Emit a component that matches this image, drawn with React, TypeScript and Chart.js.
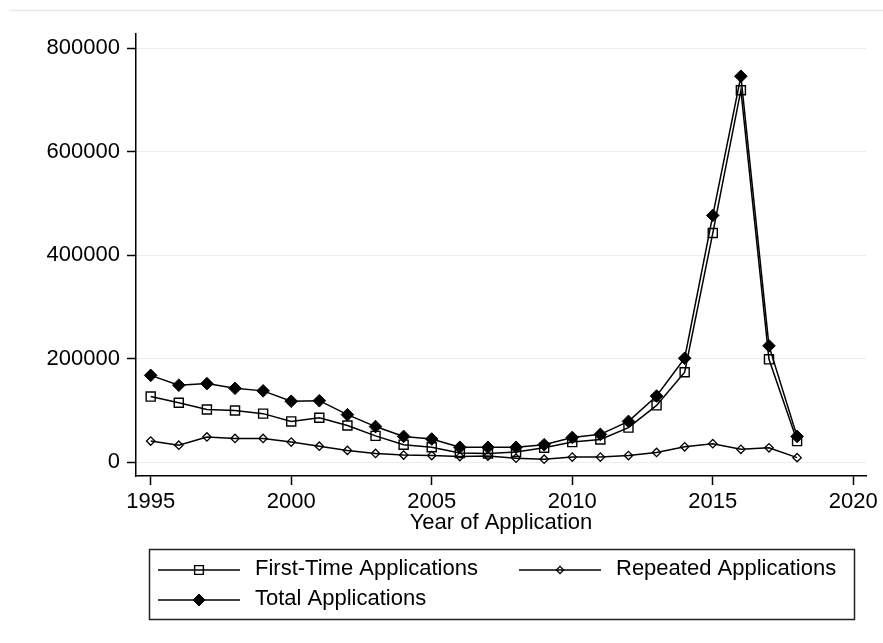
import React, { useEffect, useRef } from "react";
import { Chart, registerables } from "chart.js";

Chart.register(...registerables);

const years = [1995, 1996, 1997, 1998, 1999, 2000, 2001, 2002, 2003, 2004, 2005, 2006, 2007, 2008, 2009, 2010, 2011, 2012, 2013, 2014, 2015, 2016, 2017, 2018];
const firstTime = [127000, 115000, 102000, 100000, 94000, 79000, 86000, 71000, 51000, 34000, 29000, 18000, 17000, 20000, 28000, 39000, 44000, 67000, 110000, 174000, 443000, 719000, 199000, 41000];
const repeated = [41000, 33000, 49000, 46000, 46000, 39000, 31000, 23000, 17000, 14000, 13000, 11000, 12000, 8000, 6000, 10000, 10000, 13000, 19000, 30000, 36000, 25000, 28000, 9000];
const total = [168000, 149000, 152000, 143000, 138000, 118000, 119000, 92000, 69000, 50000, 45000, 29000, 29000, 29000, 34000, 48000, 54000, 79000, 128000, 201000, 477000, 746000, 225000, 50000];
const xTicks = [1995, 2000, 2005, 2010, 2015, 2020];
const yTicks = [0, 200000, 400000, 600000, 800000];
const seriesLabels = ["First-Time Applications", "Repeated Applications", "Total Applications"];

const FONT = '"Liberation Sans", Arial, Helvetica, sans-serif';

function drawMarker(ctx: CanvasRenderingContext2D, style: string, x: number, y: number, r: number, fill: string, stroke: string, lw: number) {
  ctx.beginPath();
  if (style === "rect") {
    const s = Math.SQRT1_2 * r;
    ctx.rect(x - s, y - s, 2 * s, 2 * s);
  } else {
    ctx.moveTo(x - r, y);
    ctx.lineTo(x, y - r);
    ctx.lineTo(x + r, y);
    ctx.lineTo(x, y + r);
    ctx.closePath();
  }
  ctx.fillStyle = fill;
  ctx.fill();
  ctx.strokeStyle = stroke;
  ctx.lineWidth = lw;
  ctx.stroke();
}

const framePlugin = {
  id: "stataFrame",
  beforeDraw(chart: any) {
    const ctx = chart.ctx as CanvasRenderingContext2D;
    ctx.save();
    ctx.fillStyle = "#ffffff";
    ctx.fillRect(0, 0, chart.width, chart.height);
    ctx.strokeStyle = "#e3ecec";
    ctx.lineWidth = 1.5;
    ctx.beginPath();
    ctx.moveTo(9, 10.5);
    ctx.lineTo(chart.width, 10.5);
    ctx.stroke();
    ctx.restore();
  },
};

const legendPlugin = {
  id: "stataLegend",
  afterDraw(chart: any) {
    const ctx = chart.ctx as CanvasRenderingContext2D;
    ctx.save();
    ctx.strokeStyle = "#222";
    ctx.lineWidth = 1.5;
    ctx.strokeRect(149.5, 549.5, 705, 70);
    const slots = [
      { x: 158, y: 570 },
      { x: 519, y: 570 },
      { x: 158, y: 600 },
    ];
    chart.data.datasets.forEach((ds: any, i: number) => {
      const s = slots[i];
      ctx.beginPath();
      ctx.moveTo(s.x, s.y);
      ctx.lineTo(s.x + 82, s.y);
      ctx.strokeStyle = ds.borderColor;
      ctx.lineWidth = ds.borderWidth;
      ctx.stroke();
      drawMarker(ctx, ds.pointStyle, s.x + 41, s.y, ds.legendRadius, ds.pointBackgroundColor, ds.pointBorderColor, ds.pointBorderWidth);
      ctx.fillStyle = "#000";
      ctx.font = `22px ${FONT}`;
      ctx.textBaseline = "middle";
      ctx.textAlign = "left";
      ctx.fillText(ds.label, s.x + 97, s.y - 1);
    });
    ctx.restore();
  },
};

export default function App() {
  const ref = useRef<HTMLCanvasElement | null>(null);

  useEffect(() => {
    if (!ref.current) return;
    Chart.defaults.font.family = FONT;
    const pts = (arr: number[]) => years.map((yr, i) => ({ x: yr, y: arr[i] }));
    const chart = new Chart(ref.current, {
      type: "line",
      data: {
        datasets: [
          {
            label: seriesLabels[0],
            data: pts(firstTime),
            borderColor: "#000",
            borderWidth: 1.5,
            pointStyle: "rect",
            pointRadius: 6.4,
            pointBackgroundColor: "rgba(0,0,0,0)",
            pointBorderColor: "#000",
            pointBorderWidth: 1.4,
            order: 1,
            legendRadius: 6.2,
          } as any,
          {
            label: seriesLabels[1],
            data: pts(repeated),
            borderColor: "#000",
            borderWidth: 1.5,
            pointStyle: "rectRot",
            pointRadius: 4.2,
            pointBackgroundColor: "rgba(0,0,0,0)",
            pointBorderColor: "#000",
            pointBorderWidth: 1.3,
            order: 2,
            legendRadius: 3.6,
          } as any,
          {
            label: seriesLabels[2],
            data: pts(total),
            borderColor: "#000",
            borderWidth: 1.5,
            pointStyle: "rectRot",
            pointRadius: 6.3,
            pointBackgroundColor: "#000",
            pointBorderColor: "#000",
            pointBorderWidth: 1,
            order: 0,
            legendRadius: 6,
          } as any,
        ],
      },
      options: {
        responsive: false,
        animation: false,
        events: [],
        layout: { padding: { left: 0, right: 17, top: 34, bottom: 107.3 } },
        plugins: {
          legend: { display: false },
          tooltip: { enabled: false },
        },
        scales: {
          x: {
            type: "linear",
            min: 1994.477,
            max: 2020.452,
            afterBuildTicks: (scale: any) => {
              scale.ticks = xTicks.map((v) => ({ value: v }));
            },
            afterFit: (scale: any) => {
              scale.height = 59.7;
            },
            grid: {
              display: true,
              drawOnChartArea: false,
              drawTicks: true,
              tickLength: 9,
              tickColor: "#000",
              tickWidth: 1.5,
              color: "#000",
            },
            border: { display: true, color: "#000", width: 1.5 },
            ticks: {
              autoSkip: false,
              maxRotation: 0,
              padding: 4,
              color: "#000",
              font: { size: 22, family: FONT },
              callback: (v: any) => String(v),
            },
            title: {
              display: true,
              text: "Year of Application",
              color: "#000",
              font: { size: 22, family: FONT },
              padding: { top: 0, bottom: 0 },
            },
          },
          y: {
            type: "linear",
            min: -26500,
            max: 827600,
            afterBuildTicks: (scale: any) => {
              scale.ticks = yTicks.map((v) => ({ value: v }));
            },
            afterFit: (scale: any) => {
              scale.width = 136;
            },
            grid: {
              display: true,
              drawOnChartArea: true,
              drawTicks: true,
              tickLength: 9,
              tickColor: "#000",
              tickWidth: 1.5,
              color: "#e6eef0",
              lineWidth: 1,
            },
            border: { display: true, color: "#000", width: 1.5 },
            ticks: {
              autoSkip: false,
              padding: 7,
              color: "#000",
              font: { size: 22, family: FONT },
              callback: (v: any) => String(v),
            },
          },
        },
      },
      plugins: [framePlugin, legendPlugin],
    } as any);
    return () => chart.destroy();
  }, []);

  return (
    <div style={{ position: "fixed", left: 0, top: 0, width: 883, height: 643, background: "#fff" }}>
      <canvas ref={ref} width={883} height={643} style={{ display: "block", width: 883, height: 643 }} />
    </div>
  );
}
